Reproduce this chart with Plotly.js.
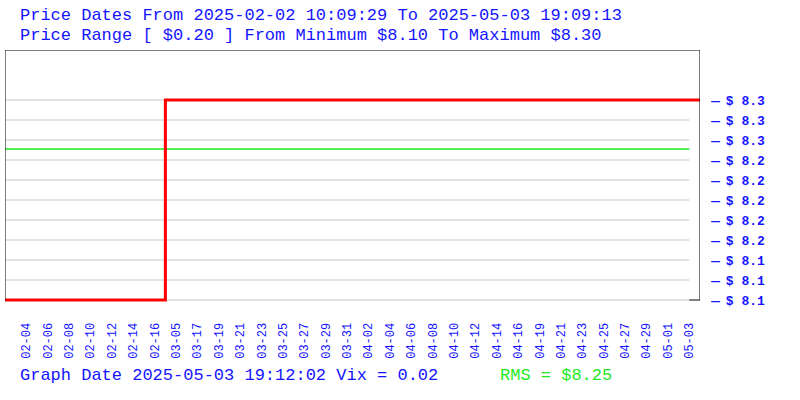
<!DOCTYPE html>
<html>
<head>
<meta charset="utf-8">
<script src="https://cdn.plot.ly/plotly-3.0.1.min.js"></script>
<style>html,body{margin:0;padding:0;background:#fff;}#chart{width:800px;height:400px;}</style>
</head>
<body>
<div id="chart"></div>
<script>
// ---- data ----
const sampleLabels = ["02-02","02-04","02-06","02-08","02-10","02-12","02-14","02-16",
  "03-05","03-17","03-19","03-21","03-23","03-25","03-27","03-29","03-31",
  "04-02","04-04","04-06","04-08","04-10","04-12","04-14","04-16","04-19",
  "04-21","04-23","04-25","04-27","04-29","05-01","05-03","05-03 19:09"];
const samplePos = [0,1,2,3,4,5,6,7,8,9,10,11,12,13,14,15,16,17,18,19,20,21,22,23,24,25,26,27,28,29,30,31,32,32.5];
const samplePrices = [8.10,8.10,8.10,8.10,8.10,8.10,8.10,8.10,
  8.30,8.30,8.30,8.30,8.30,8.30,8.30,8.30,8.30,8.30,8.30,8.30,8.30,8.30,8.30,8.30,8.30,8.30,
  8.30,8.30,8.30,8.30,8.30,8.30,8.30,8.30];
const tickPos = samplePos.slice(1, 33);
const tickLabels = sampleLabels.slice(1, 33);
const priceLevels = [8.10,8.12,8.14,8.16,8.18,8.20,8.22,8.24,8.26,8.28,8.30];
const priceLabels = ["$ 8.1","$ 8.1","$ 8.1","$ 8.2","$ 8.2","$ 8.2","$ 8.2","$ 8.2","$ 8.3","$ 8.3","$ 8.3"];
const rmsValue = 8.251;
const titleLine1 = "Price Dates From 2025-02-02 10:09:29 To 2025-05-03 19:09:13";
const titleLine2 = "Price Range [ $0.20 ] From Minimum $8.10 To Maximum $8.30";
const footerLeft = "Graph Date 2025-05-03 19:12:02 Vix = 0.02";
const footerRight = "RMS = $8.25";

// ---- layout geometry ----
const W = 800, H = 400;
const M = {l: 5, r: 100, t: 50, b: 95};
const pw = W - M.l - M.r, ph = H - M.t - M.b;
const px = x => (x - M.l) / pw;
const py = y => (H - M.b - y) / ph;
const FONT = "Liberation Mono, Courier New, monospace";
const BLUE = "#1414ff";
const GREEN = "#1ee81e";
const lastTick = tickPos[tickPos.length - 1];
const xMax = samplePos[samplePos.length - 1];
const yTop = 8.35, yBot = 8.095;
const DASH = '<span style="font-family:DejaVu Sans;font-size:10px">—</span><span style="font-family:DejaVu Sans;font-size:15px"> </span>';

const shapes = [];
priceLevels.forEach(v => shapes.push({type:"line", xref:"x", yref:"y", x0:samplePos[0], x1:lastTick, y0:v, y1:v,
  line:{color:"#c8c8c8", width:1}, layer:"below"}));
shapes.push({type:"line", xref:"x", yref:"y", x0:samplePos[0], x1:lastTick, y0:rmsValue, y1:rmsValue,
  line:{color:GREEN, width:1.5}, layer:"below"});
// frame
shapes.push({type:"line", xref:"x", yref:"y", x0:samplePos[0], x1:samplePos[0], y0:priceLevels[0], y1:yTop, line:{color:"#000", width:1}});
shapes.push({type:"line", xref:"x", yref:"y", x0:xMax, x1:xMax, y0:priceLevels[0], y1:yTop, line:{color:"#000", width:1}});
shapes.push({type:"line", xref:"x", yref:"y", x0:samplePos[0], x1:xMax, y0:yTop, y1:yTop, line:{color:"#000", width:1}});
shapes.push({type:"line", xref:"x", yref:"y", x0:lastTick, x1:xMax, y0:priceLevels[0], y1:priceLevels[0], line:{color:"#000", width:1}});

const trace = {
  x: samplePos, y: samplePrices, type: "scatter", mode: "lines",
  line: {color: "#ff0000", width: 3, shape: "hvh"}, hoverinfo: "skip"
};

const ann = (text, x, y, color) => ({text, xref:"paper", yref:"paper", x:px(x), y:py(y),
  xanchor:"left", yanchor:"middle", showarrow:false, font:{family:FONT, size:17, color}});

const layout = {
  width: W, height: H, margin: M, showlegend: false,
  paper_bgcolor: "#fff", plot_bgcolor: "#fff",
  xaxis: {range: [samplePos[0], xMax], tickmode: "array", tickvals: tickPos, ticktext: tickLabels,
    tickangle: -90, showgrid: false, zeroline: false, showline: false,
    ticks: "outside", ticklen: 12, tickcolor: "rgba(0,0,0,0)",
    tickfont: {family: FONT, size: 12, color: BLUE}, fixedrange: true},
  yaxis: {range: [yBot, yTop], side: "right", tickmode: "array", tickvals: priceLevels,
    ticktext: priceLabels.map(t => DASH + t),
    showgrid: false, zeroline: false, showline: false,
    ticks: "outside", ticklen: 7, tickcolor: "rgba(0,0,0,0)",
    tickfont: {family: FONT, size: 13, color: BLUE, weight: "bold"}, fixedrange: true},
  shapes: shapes,
  annotations: [
    ann(titleLine1, 18, 15, BLUE),
    ann(titleLine2, 18, 35, BLUE),
    ann(footerLeft, 18, 375, BLUE),
    ann(footerRight, 498, 375, GREEN)
  ]
};
Plotly.newPlot("chart", [trace], layout, {displayModeBar: false, staticPlot: true});
</script>
</body>
</html>
